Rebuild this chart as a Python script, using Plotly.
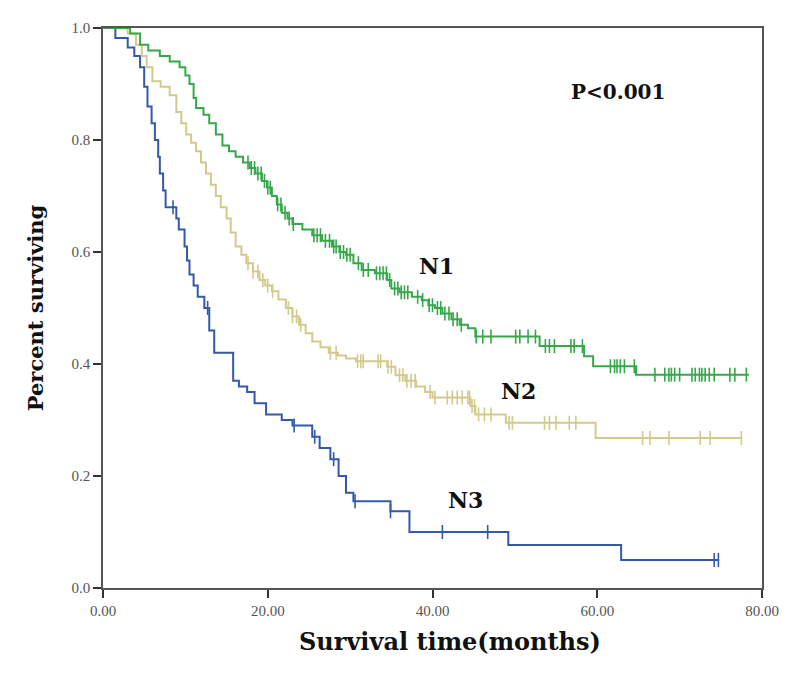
import numpy as np
import plotly.graph_objects as go

# ---- data ----
n1_t = [0, 3.3, 4.5, 5.5, 6.9, 8.1, 9.3, 10.0, 10.5, 11.0, 11.3, 12.2, 12.9, 13.7, 14.5, 15.3, 16.1, 17.0,
        17.8, 18.5, 19.3, 19.9, 20.5, 21.1, 21.7, 22.4, 23.0, 24.2, 25.4, 26.6, 27.8, 28.7, 29.5, 30.4,
        31.4, 33.0, 34.5, 35.0, 36.0, 37.5, 38.7, 39.5, 40.3, 41.2, 42.3, 43.3, 44.3, 45.2, 53.0, 58.4,
        59.5, 64.7]
n1_s = [1.0, 0.99, 0.97, 0.96, 0.95, 0.94, 0.93, 0.915, 0.90, 0.875, 0.857, 0.845, 0.83, 0.81, 0.79, 0.78,
        0.77, 0.76, 0.75, 0.74, 0.727, 0.715, 0.70, 0.685, 0.67, 0.66, 0.65, 0.64, 0.63, 0.62, 0.61, 0.60,
        0.595, 0.58, 0.568, 0.562, 0.55, 0.535, 0.528, 0.52, 0.514, 0.505, 0.50, 0.49, 0.48, 0.47, 0.464,
        0.449, 0.432, 0.414, 0.396, 0.381]
n1_end = 78.4
n1_cens = [17.6, 18.0, 18.4, 18.8, 19.2, 19.6, 20.0, 20.3, 21.2, 21.6, 22.1, 22.6, 23.1, 25.6, 26.0, 26.4,
           27.0, 27.5, 28.0, 28.3, 28.8, 29.2, 29.6, 30.0, 31.0, 31.6, 32.2, 33.2, 33.6, 34.0, 34.4, 34.8,
           35.4, 35.8, 36.2, 36.6, 37.0, 38.2, 38.8, 39.6, 40.0, 40.6, 41.0, 41.5, 42.0, 42.5, 43.0, 43.5,
           45.3, 46.1, 47.1, 50.1, 50.6, 51.6, 52.5, 53.7, 54.2, 54.8, 56.8, 57.2, 58.2, 61.6, 62.1, 62.4,
           62.8, 63.3, 64.5, 67.0, 68.2, 68.7, 69.0, 69.4, 70.0, 71.5, 71.9, 72.4, 72.7, 73.1, 73.6, 74.2,
           76.1, 76.7, 78.1]

n2_t = [0, 3.0, 4.0, 4.7, 5.3, 6.0, 7.0, 8.1, 8.9, 9.5, 10.1, 10.7, 11.3, 11.9, 12.5, 13.1, 13.7, 14.3,
        15.0, 15.5, 16.1, 16.8, 17.4, 18.2, 19.0, 19.7, 20.5, 21.3, 22.2, 23.0, 23.8, 24.6, 25.4, 26.4,
        27.4, 28.5, 29.5, 30.7, 34.5, 35.5, 36.7, 38.0, 39.1, 40.0, 44.6, 45.2, 48.9, 59.8]
n2_s = [1.0, 0.99, 0.97, 0.95, 0.93, 0.905, 0.895, 0.88, 0.85, 0.83, 0.81, 0.795, 0.78, 0.76, 0.74, 0.72,
        0.70, 0.68, 0.66, 0.635, 0.61, 0.595, 0.58, 0.565, 0.55, 0.54, 0.53, 0.515, 0.50, 0.485, 0.47,
        0.455, 0.44, 0.43, 0.42, 0.415, 0.41, 0.405, 0.395, 0.38, 0.37, 0.36, 0.35, 0.34, 0.325, 0.31,
        0.295, 0.268]
n2_end = 77.5
n2_cens = [17.6, 18.2, 18.8, 19.4, 20.0, 20.6, 22.5, 23.0, 23.5, 24.0, 27.6, 28.3, 30.9, 31.3, 31.6, 33.4,
           33.7, 34.6, 35.0, 36.0, 36.4, 36.9, 37.4, 37.9, 39.7, 40.3, 41.8, 42.4, 43.0, 43.6, 44.3, 44.5,
           44.8, 45.1, 45.6, 46.3, 47.1, 49.3, 49.7, 53.6, 54.2, 55.0, 56.6, 57.4, 65.5, 66.4, 68.7, 72.5,
           73.7, 77.5]

n3_t = [0, 1.5, 3.0, 3.8, 4.5, 5.0, 5.4, 5.9, 6.3, 6.7, 6.9, 7.3, 7.6, 8.9, 9.2, 9.9, 10.2, 10.5, 11.0,
        11.5, 12.3, 12.9, 13.5, 15.8, 16.5, 17.5, 18.4, 19.8, 21.7, 23.0, 25.4, 26.3, 27.6, 28.6, 29.5,
        30.4, 34.9, 37.2, 49.2, 62.9]
n3_s = [1.0, 0.982, 0.965, 0.95, 0.93, 0.895, 0.86, 0.83, 0.80, 0.77, 0.74, 0.71, 0.68, 0.66, 0.64, 0.61,
        0.585, 0.56, 0.54, 0.52, 0.50, 0.46, 0.42, 0.37, 0.36, 0.35, 0.33, 0.31, 0.30, 0.29, 0.27, 0.25,
        0.23, 0.20, 0.17, 0.155, 0.137, 0.10, 0.077, 0.05]
n3_end = 74.8
n3_cens = [8.5, 12.7, 23.2, 25.7, 28.0, 30.6, 34.9, 41.2, 46.7, 74.2, 74.7]

x_ticks = [0, 20, 40, 60, 80]
x_labels = ["0.00", "20.00", "40.00", "60.00", "80.00"]
y_ticks = [0.0, 0.2, 0.4, 0.6, 0.8, 1.0]
y_labels = ["0.0", "0.2", "0.4", "0.6", "0.8", "1.0"]

GREEN = "#35a84a"
TAN = "#d2ca8c"
BLUE = "#3459a8"


def step_at(ts, ss, t):
    idx = np.searchsorted(np.array(ts), t, side="right") - 1
    return [ss[i] for i in idx]


fig = go.Figure()
for ts, ss, end, cens, col in [
    (n3_t, n3_s, n3_end, n3_cens, BLUE),
    (n2_t, n2_s, n2_end, n2_cens, TAN),
    (n1_t, n1_s, n1_end, n1_cens, GREEN),
]:
    xs = list(ts) + [end]
    ys = list(ss) + [ss[-1]]
    fig.add_trace(go.Scatter(x=xs, y=ys, mode="lines", line=dict(color=col, width=2, shape="hv"),
                             showlegend=False, hoverinfo="skip"))
    fig.add_trace(go.Scatter(x=cens, y=step_at(ts, ss, cens), mode="markers",
                             marker=dict(symbol="line-ns", size=10, line=dict(color=col, width=1.6)),
                             showlegend=False, hoverinfo="skip"))

serif = "DejaVu Serif"
fig.add_annotation(x=62.5, y=0.885, text="<b>P<0.001</b>", showarrow=False,
                   font=dict(family=serif, size=20, color="#111"))
fig.add_annotation(x=40.5, y=0.575, text="<b>N1</b>", showarrow=False,
                   font=dict(family=serif, size=22, color="#111"))
fig.add_annotation(x=50.5, y=0.352, text="<b>N2</b>", showarrow=False,
                   font=dict(family=serif, size=22, color="#111"))
fig.add_annotation(x=44.0, y=0.157, text="<b>N3</b>", showarrow=False,
                   font=dict(family=serif, size=22, color="#111"))
# x-axis title (sits slightly right of the plot centre in the reference)
fig.add_annotation(x=0.526, y=-0.095, xref="paper", yref="paper", yanchor="middle",
                   text="<b>Survival time(months)</b>", showarrow=False,
                   font=dict(family=serif, size=24, color="#111"))

axis_common = dict(showline=True, mirror=True, linecolor="#555", linewidth=1.5, showgrid=False,
                   zeroline=False, ticks="outside", ticklen=8, tickwidth=1.5, tickcolor="#333",
                   tickfont=dict(family="Liberation Serif", size=15, color="#555"))

# the page body has an 8px margin, so the figure is sized/positioned to compensate
fig.update_layout(
    width=783, height=669,
    margin=dict(l=95, r=18, t=12, b=89),
    paper_bgcolor="white", plot_bgcolor="white",
    xaxis=dict(range=[0, 80], tickvals=x_ticks, ticktext=x_labels, **axis_common),
    yaxis=dict(range=[0, 1.0], tickvals=y_ticks, ticktext=y_labels,
               title=dict(text="<b>Percent surviving</b>", standoff=22,
                          font=dict(family=serif, size=21, color="#111")),
               **axis_common),
)

fig.write_html("out.html")
